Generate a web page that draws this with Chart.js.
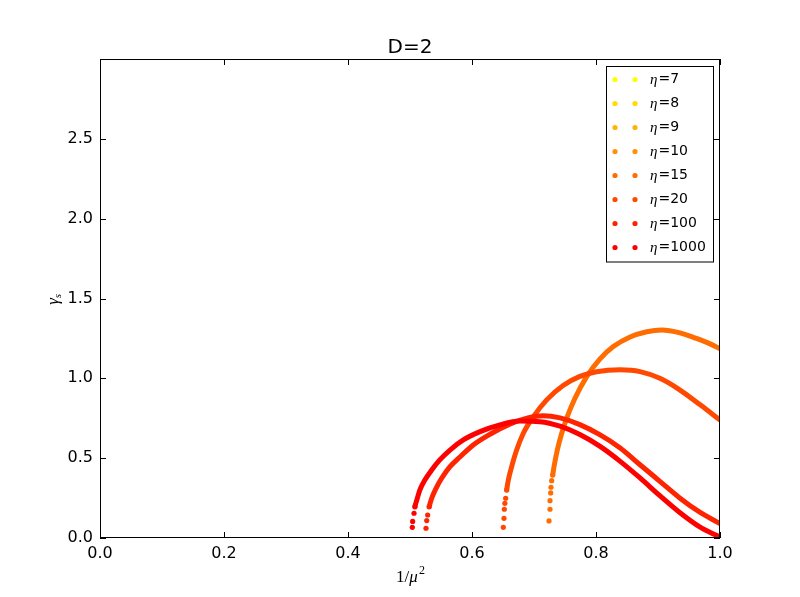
<!DOCTYPE html>
<html>
<head>
<meta charset="utf-8">
<script src="https://cdn.jsdelivr.net/npm/chart.js@4/dist/chart.umd.min.js"></script>
<style>
  html, body { margin: 0; padding: 0; background: #fff; }
  #wrap { width: 800px; height: 597px; }
</style>
</head>
<body>
<div id="wrap"><canvas id="chart" width="800" height="597"></canvas></div>
<script>
// η values and their colours (autumn map, yellow -> red)
const etaLabels = ['7', '8', '9', '10', '15', '20', '100', '1000'];
const etaColors = ['#ffff00', '#ffdb00', '#ffb600', '#ff9200', '#ff6d00', '#ff4900', '#ff2400', '#ff0000'];

// [1/mu^2, gamma_s]; η=7..10 have nothing in range
const eta7  = [];
const eta8  = [];
const eta9  = [];
const eta10 = [];
const eta15 = [
  [0.7242, 0.107], [0.7258, 0.180], [0.7258, 0.234], [0.7269, 0.282], [0.7274, 0.318],
  [0.7285, 0.359], [0.7302, 0.395], [0.7323, 0.447], [0.7376, 0.551], [0.7447, 0.656],
  [0.7537, 0.760], [0.7661, 0.875], [0.785, 1.011], [0.8065, 1.122], [0.828, 1.199],
  [0.855, 1.259], [0.882, 1.292], [0.906, 1.303], [0.9355, 1.285], [0.962, 1.250],
  [0.984, 1.216], [1.0, 1.185]
];
const eta20 = [
  [0.6505, 0.067], [0.6516, 0.123], [0.6521, 0.180], [0.653, 0.217], [0.6543, 0.249],
  [0.656, 0.301], [0.6586, 0.363], [0.664, 0.447], [0.672, 0.551], [0.6828, 0.656],
  [0.699, 0.760], [0.7205, 0.865], [0.747, 0.955], [0.774, 1.012], [0.801, 1.041],
  [0.839, 1.053], [0.871, 1.042], [0.903, 1.000], [0.935, 0.928], [0.968, 0.834],
  [1.0, 0.739]
];
const eta100 = [
  [0.5258, 0.061], [0.527, 0.109], [0.5285, 0.144], [0.531, 0.196], [0.535, 0.249],
  [0.542, 0.311], [0.551, 0.374], [0.5645, 0.447], [0.581, 0.509], [0.602, 0.583],
  [0.629, 0.650], [0.661, 0.713], [0.69, 0.752], [0.715, 0.766], [0.742, 0.752],
  [0.774, 0.710], [0.806, 0.647], [0.839, 0.564], [0.871, 0.459], [0.903, 0.355],
  [0.935, 0.251], [0.968, 0.160], [1.0, 0.090]
];
const eta1000 = [
  [0.5037, 0.067], [0.5043, 0.104], [0.5065, 0.155], [0.508, 0.196], [0.511, 0.238],
  [0.516, 0.301], [0.524, 0.363], [0.535, 0.426], [0.548, 0.489], [0.5645, 0.551],
  [0.586, 0.614], [0.613, 0.666], [0.645, 0.708], [0.677, 0.732], [0.71, 0.728],
  [0.742, 0.700], [0.774, 0.648], [0.806, 0.575], [0.839, 0.480], [0.871, 0.376],
  [0.903, 0.265], [0.935, 0.160], [0.968, 0.068], [0.995, 0.015]
];
const etaSeries = [eta7, eta8, eta9, eta10, eta15, eta20, eta100, eta1000];
// how many loose dots before the points merge into a solid band
const looseDots = [0, 0, 0, 0, 6, 5, 3, 3];

const xTicks = [0, 0.2, 0.4, 0.6, 0.8, 1.0];
const yTicks = [0, 0.5, 1.0, 1.5, 2.0, 2.5, 3.0];

const datasets = etaSeries.map((pts, i) => {
  const n = looseDots[i];
  const col = etaColors[i];
  return {
    label: 'η=' + etaLabels[i],
    data: pts.map(p => ({ x: p[0], y: p[1] })),
    showLine: true,
    borderColor: col,
    backgroundColor: col,
    borderWidth: 5,
    borderCapStyle: 'round',
    borderJoinStyle: 'round',
    cubicInterpolationMode: 'monotone',
    pointRadius: ctx => (ctx.dataIndex <= n ? 2.6 : 0),
    pointBorderWidth: 0,
    pointHoverRadius: 0,
    segment: { borderColor: ctx => (ctx.p0DataIndex < n ? 'rgba(0,0,0,0)' : col) },
    order: etaSeries.length - i
  };
});

// frame, inward ticks, title, math labels, legend
const decorations = {
  id: 'decorations',
  afterDraw(chart) {
    const { ctx, chartArea: a, scales } = chart;
    ctx.save();
    ctx.strokeStyle = '#000';
    ctx.lineWidth = 1;
    ctx.strokeRect(a.left + 0.5, a.top + 0.5, a.right - a.left - 1, a.bottom - a.top - 1);

    const tl = 6;
    ctx.beginPath();
    xTicks.forEach(v => {
      const px = Math.round(scales.x.getPixelForValue(v)) + 0.5;
      ctx.moveTo(px, a.bottom); ctx.lineTo(px, a.bottom - tl);
      ctx.moveTo(px, a.top); ctx.lineTo(px, a.top + tl);
    });
    yTicks.forEach(v => {
      const py = Math.round(scales.y.getPixelForValue(v)) + 0.5;
      ctx.moveTo(a.left, py); ctx.lineTo(a.left + tl, py);
      ctx.moveTo(a.right, py); ctx.lineTo(a.right - tl, py);
    });
    ctx.stroke();

    // title
    ctx.fillStyle = '#000';
    ctx.font = '20px "DejaVu Sans"';
    ctx.textAlign = 'center';
    ctx.textBaseline = 'alphabetic';
    ctx.fillText('D=2', (a.left + a.right) / 2, 53);

    // x label 1/μ²
    const cx = (a.left + a.right) / 2;
    ctx.textAlign = 'left';
    ctx.font = '17px "Liberation Serif"';
    const w1 = ctx.measureText('1/').width;
    ctx.font = 'italic 17px "Liberation Serif"';
    const w2 = ctx.measureText('μ').width;
    ctx.font = '12px "Liberation Serif"';
    const w3 = ctx.measureText('2').width;
    let x0 = cx - (w1 + w2 + w3) / 2;
    const by = 582;
    ctx.font = '17px "Liberation Serif"';
    ctx.fillText('1/', x0, by);
    ctx.font = 'italic 17px "Liberation Serif"';
    ctx.fillText('μ', x0 + w1, by);
    ctx.font = '12px "Liberation Serif"';
    ctx.fillText('2', x0 + w1 + w2 + 1, by - 8);

    // y label γ_s
    ctx.save();
    ctx.translate(58, (a.top + a.bottom) / 2);
    ctx.rotate(-Math.PI / 2);
    ctx.font = 'italic 17px "Liberation Serif"';
    const g = ctx.measureText('γ').width;
    ctx.fillText('γ', -g / 2 - 3, 0);
    ctx.font = 'italic 11px "Liberation Serif"';
    ctx.fillText('s', g / 2 - 3, 3);
    ctx.restore();

    // legend
    const lx = 606.5, ly = 66.5, lw = 107, lh = 195.5;
    ctx.fillStyle = '#fff';
    ctx.fillRect(lx, ly, lw, lh);
    ctx.strokeStyle = '#000';
    ctx.strokeRect(lx, ly, lw, lh);
    etaLabels.forEach((lab, i) => {
      const y = 79.5 + i * 24;
      ctx.fillStyle = etaColors[i];
      [615, 635].forEach(dx => {
        ctx.beginPath();
        ctx.arc(dx, y, 2.6, 0, Math.PI * 2);
        ctx.fill();
      });
      ctx.fillStyle = '#000';
      ctx.textBaseline = 'middle';
      ctx.font = 'italic 15px "Liberation Serif"';
      ctx.fillText('η', 650, y + 1);
      const we = ctx.measureText('η').width;
      ctx.font = '14px "DejaVu Sans"';
      ctx.fillText('=' + lab, 650 + we + 1, y);
    });
    ctx.restore();
  }
};

new Chart(document.getElementById('chart'), {
  type: 'scatter',
  data: { datasets },
  options: {
    responsive: false,
    devicePixelRatio: 1,
    animation: false,
    events: [],
    layout: { padding: { left: 0, top: 59, right: 80, bottom: 0 } },
    plugins: { legend: { display: false }, tooltip: { enabled: false }, title: { display: false } },
    scales: {
      x: {
        type: 'linear', min: 0, max: 1,
        afterFit: s => { s.height = 59; },
        afterBuildTicks: s => { s.ticks = xTicks.map(v => ({ value: v })); },
        grid: { display: false, drawTicks: false },
        border: { display: false },
        ticks: {
          padding: 6, color: '#000', maxRotation: 0,
          font: { family: 'DejaVu Sans', size: 16 },
          callback: v => v.toFixed(1)
        }
      },
      y: {
        type: 'linear', min: 0, max: 3,
        afterFit: s => { s.width = 100; },
        afterBuildTicks: s => { s.ticks = yTicks.map(v => ({ value: v })); },
        grid: { display: false, drawTicks: false },
        border: { display: false },
        ticks: {
          padding: 7, color: '#000',
          font: { family: 'DejaVu Sans', size: 16 },
          callback: v => (v >= 3 ? '' : v.toFixed(1))
        }
      }
    }
  },
  plugins: [decorations]
});
</script>
</body>
</html>
